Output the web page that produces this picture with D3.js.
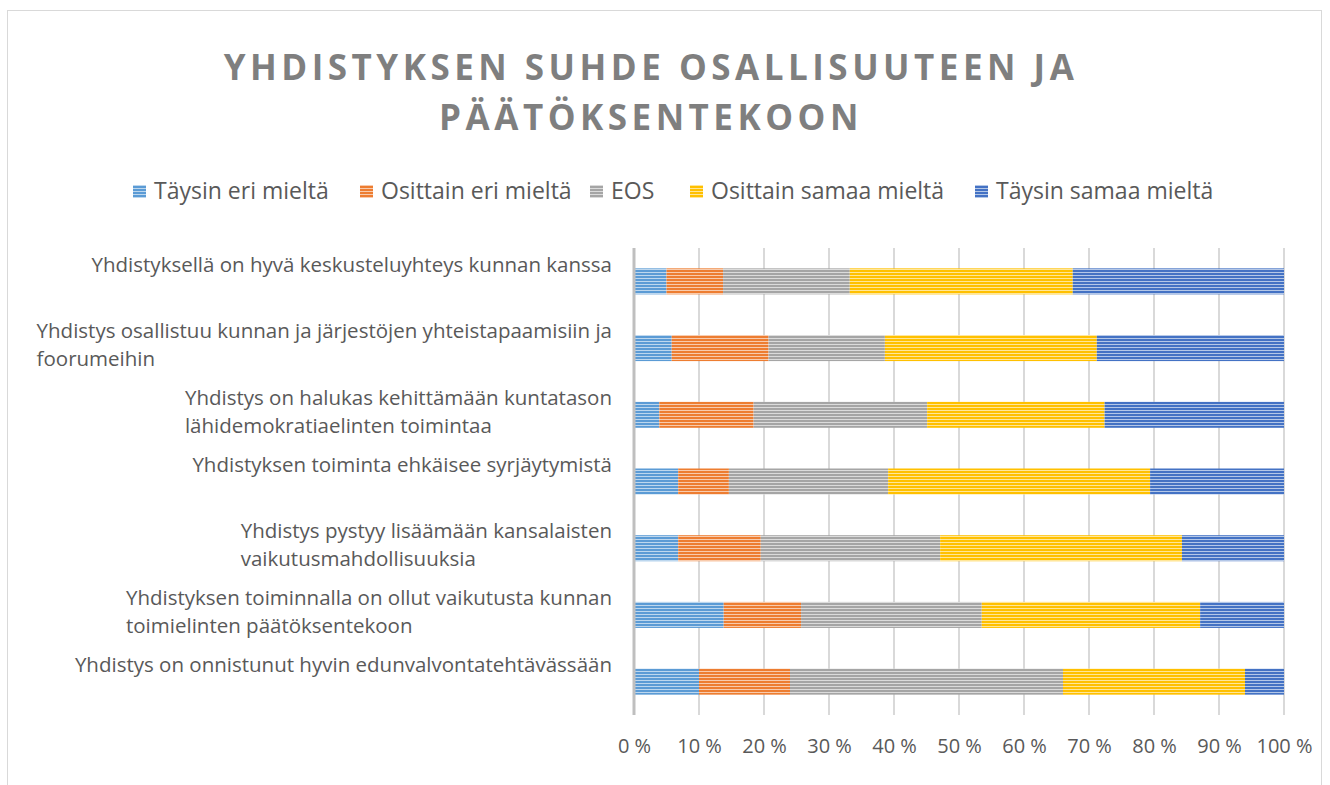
<!DOCTYPE html>
<html>
<head>
<meta charset="utf-8">
<script src="https://cdn.jsdelivr.net/npm/d3@7"></script>
<style>
  body { margin: 0; background: #fff; }
  svg text { font-family: "Open Sans", "Noto Sans", sans-serif; }
</style>
</head>
<body>
<div id="chart"></div>
<script>
const width = 1330;
const height = 785;

// data (percent of answers)
const categories = [
  "Yhdistyksellä on hyvä keskusteluyhteys kunnan kanssa",
  "Yhdistys osallistuu kunnan ja järjestöjen yhteistapaamisiin ja|foorumeihin",
  "Yhdistys on halukas kehittämään kuntatason|lähidemokratiaelinten toimintaa",
  "Yhdistyksen toiminta ehkäisee syrjäytymistä",
  "Yhdistys pystyy lisäämään kansalaisten|vaikutusmahdollisuuksia",
  "Yhdistyksen toiminnalla on ollut vaikutusta kunnan|toimielinten päätöksentekoon",
  "Yhdistys on onnistunut hyvin edunvalvontatehtävässään"
];
const seriesNames = ["Täysin eri mieltä", "Osittain eri mieltä", "EOS", "Osittain samaa mieltä", "Täysin samaa mieltä"];
const taysinEri   = [5.0, 5.8, 3.9, 6.8, 6.8, 13.8, 10.0];
const osittainEri = [8.7, 14.9, 14.5, 7.8, 12.7, 11.9, 14.0];
const eos         = [19.5, 17.9, 26.7, 24.5, 27.6, 27.8, 42.0];
const osittainSam = [34.3, 32.6, 27.3, 40.3, 37.2, 33.6, 28.0];
const taysinSam   = [32.5, 28.8, 27.6, 20.6, 15.7, 12.9, 6.0];
const tickValues  = [0, 10, 20, 30, 40, 50, 60, 70, 80, 90, 100];
const colors      = ["#5b9bd5", "#ed7d31", "#a5a5a5", "#ffc000", "#4472c4"];

const seriesValues = [taysinEri, osittainEri, eos, osittainSam, taysinSam];
const table = categories.map((c, i) => {
  const row = { cat: c };
  seriesNames.forEach((s, j) => row[s] = seriesValues[j][i]);
  return row;
});

const plot = { left: 634, right: 1284, top: 248, bottom: 715 };

const svg = d3.select('#chart')
  .append('svg')
  .attr('width', width)
  .attr('height', height);

// striped fills
const defs = svg.append('defs');
colors.forEach((c, i) => {
  const p = defs.append('pattern')
    .attr('id', 'stripe' + i)
    .attr('patternUnits', 'userSpaceOnUse')
    .attr('width', 8).attr('height', 3);
  p.append('rect').attr('width', 8).attr('height', 3).attr('fill', c);
  p.append('rect').attr('y', 2).attr('width', 8).attr('height', 1)
    .attr('fill', '#fff').attr('opacity', 0.6);
});

// outer frame
svg.append('rect')
  .attr('x', 7.5).attr('y', 10.5)
  .attr('width', 1314).attr('height', 800)
  .attr('fill', 'none')
  .attr('stroke', '#d9d9d9');

// title
svg.append('text')
  .attr('x', 651).attr('y', 80)
  .attr('text-anchor', 'middle')
  .attr('fill', '#7f7f7f')
  .style('font-size', '35px')
  .style('font-weight', 'bold')
  .style('letter-spacing', '4.5px')
  .selectAll('tspan')
  .data(["YHDISTYKSEN SUHDE OSALLISUUTEEN JA", "PÄÄTÖKSENTEKOON"])
  .join('tspan')
  .attr('x', 651)
  .attr('dy', (d, i) => i ? 50 : 0)
  .text(d => d);

const x = d3.scaleLinear().domain([0, 100]).range([plot.left, plot.right]);
const y = d3.scaleBand().domain(categories).range([plot.top, plot.bottom])
  .paddingInner(0.61).paddingOuter(0.305);

// gridlines
svg.append('g')
  .selectAll('line')
  .data(tickValues.slice(1))
  .join('line')
  .attr('x1', d => x(d)).attr('x2', d => x(d))
  .attr('y1', plot.top).attr('y2', plot.bottom)
  .attr('stroke', '#d9d9d9')
  .attr('stroke-width', 2);

// bars
const stacked = d3.stack().keys(seriesNames)(table);
svg.append('g')
  .selectAll('g')
  .data(stacked)
  .join('g')
  .attr('fill', (d, i) => 'url(#stripe' + i + ')')
  .selectAll('rect')
  .data(d => d)
  .join('rect')
  .attr('x', d => x(d[0]))
  .attr('y', d => y(d.data.cat))
  .attr('width', d => x(d[1]) - x(d[0]))
  .attr('height', y.bandwidth());

// category axis line
svg.append('line')
  .attr('x1', plot.left).attr('x2', plot.left)
  .attr('y1', plot.top).attr('y2', plot.bottom)
  .attr('stroke', '#bfbfbf')
  .attr('stroke-width', 3);

// x axis labels
const xAxis = d3.axisBottom(x)
  .tickValues(tickValues)
  .tickSize(0)
  .tickPadding(0)
  .tickFormat(d => d + ' %');
svg.append('g')
  .attr('transform', 'translate(0,' + 739 + ')')
  .call(xAxis)
  .call(g => g.select('.domain').remove())
  .selectAll('text')
  .attr('fill', '#595959')
  .style('font-size', '20px')
  .style('font-family', '"Open Sans", sans-serif');

// category labels
const labels = svg.append('g');
categories.forEach(c => {
  const lines = c.split('|');
  const cy = y(c) + y.bandwidth() / 2;
  const t1 = labels.append('text')
    .attr('x', 612).attr('y', cy - 17)
    .attr('dy', '0.35em')
    .attr('text-anchor', 'end')
    .attr('fill', '#595959')
    .style('font-size', '20.5px')
    .text(lines[0]);
  if (lines[1]) {
    const left = 612 - t1.node().getComputedTextLength();
    labels.append('text')
      .attr('x', left).attr('y', cy + 11)
      .attr('dy', '0.35em')
      .attr('fill', '#595959')
      .style('font-size', '20.5px')
      .text(lines[1]);
  }
});

// legend
const legendX = [133, 360, 590, 690, 975];
const legend = svg.append('g');
seriesNames.forEach((s, i) => {
  legend.append('rect')
    .attr('x', legendX[i]).attr('y', 185)
    .attr('width', 13).attr('height', 13)
    .attr('fill', 'url(#stripe' + i + ')');
  legend.append('text')
    .attr('x', legendX[i] + 21).attr('y', 191)
    .attr('dy', '0.35em')
    .attr('fill', '#595959')
    .style('font-size', '23px')
    .text(s);
});
</script>
</body>
</html>
